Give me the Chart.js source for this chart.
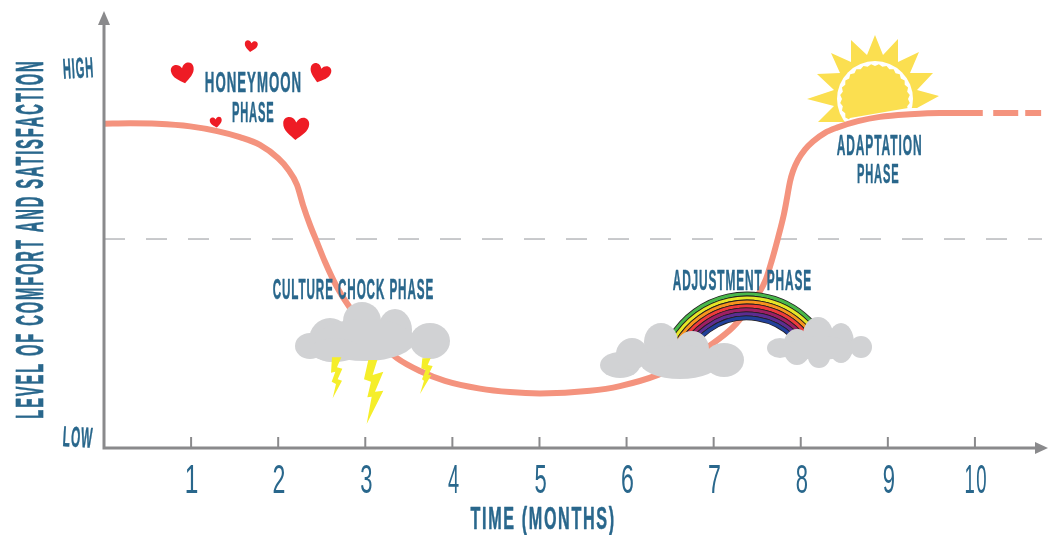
<!DOCTYPE html>
<html><head><meta charset="utf-8">
<style>html,body{margin:0;padding:0;background:#fff}canvas{display:block}</style>
<script src="https://cdn.jsdelivr.net/npm/chart.js@4"></script>
</head><body>
<div style="width:1054px;height:535px"><canvas id="c" width="1054" height="535"></canvas></div>
<script>
// ---- data ----
const monthTicks = [1,2,3,4,5,6,7,8,9,10];
const levelTicks = [2.6,88.4];
const levelLabels = {2.6:'LOW',88.4:'HIGH'};
const curveMonths = [0,.30,.61,.99,1.30,1.56,1.79,2.0,2.11,2.216,2.285,2.365,2.445,2.537,2.675,2.824,2.962,3.146,3.364,3.628,3.915,4.317,4.661,5.006,5.58,5.924,6.36,6.728,6.935,7.222,7.394,7.509,7.601,7.669,7.738,7.807,7.842,7.876,7.911,7.968,8.048,8.14,8.278,8.416,8.657,8.909,9.254,9.598,10.09];
const curveLevels = [75.4,75.5,75.4,74.8,73.7,72.3,70.5,67.4,64.9,61.2,56.5,51.9,47.9,43.3,37.4,32.6,29.1,24.9,20.9,17.9,15.6,13.8,13,12.7,13.3,14.4,17,20.7,23.5,28.1,32.3,35.6,39.3,43.7,48.8,54.4,58.1,61.9,64.4,67,69.4,71.3,73.3,74.5,76,77,77.6,77.9,77.9];
const futureMonths = [10.21,10.76];
const futureLevels = [77.9,77.9];
const neutralMonths = [0,10.77];
const neutralLevels = [48.6,48.6];

const TEXT='#29678c', AXIS='#8a8a8c', CURVE='#f4937e', FACE='"Liberation Sans Narrow","Liberation Sans",sans-serif';

function fit(ctx,t,cx,cy,w,h,rot,weight,spacing){
  ctx.save();
  const bold=(weight||'bold')==='bold';
  ctx.font=(bold?'bold':'normal')+' 40px '+FACE;
  ctx.letterSpacing=(spacing===undefined?3:spacing)+'px';
  ctx.fillStyle=TEXT;ctx.strokeStyle=TEXT;ctx.lineJoin='round';ctx.lineWidth=0.7;
  ctx.textAlign='left';ctx.textBaseline='alphabetic';
  const m=ctx.measureText(t);
  const bw=m.actualBoundingBoxLeft+m.actualBoundingBoxRight,bh=m.actualBoundingBoxAscent+m.actualBoundingBoxDescent;
  ctx.translate(cx,cy);if(rot)ctx.rotate(rot);
  ctx.scale(w/bw,h/bh);
  const tx=-bw/2+m.actualBoundingBoxLeft,ty=bh/2-m.actualBoundingBoxDescent;
  ctx.fillText(t,tx,ty);
  if(bold)ctx.strokeText(t,tx,ty);
  ctx.restore();
}
function poly(ctx,pts,col){ctx.beginPath();pts.forEach((p,i)=>i?ctx.lineTo(p[0],p[1]):ctx.moveTo(p[0],p[1]));ctx.closePath();ctx.fillStyle=col;ctx.fill();}
function cloud(ctx,lobes){ctx.fillStyle='#d1d2d4';lobes.forEach(l=>{ctx.beginPath();ctx.ellipse(l[0],l[1],l[2],l[3],0,0,Math.PI*2);ctx.fill();});}
function heart(ctx,x,y,s,rot){
  ctx.save();ctx.translate(x,y);ctx.rotate(rot);ctx.scale(s/24,s/24);
  ctx.beginPath();ctx.moveTo(0,11);
  ctx.bezierCurveTo(-5,7,-12,3,-12,-4);ctx.bezierCurveTo(-12,-11,-3,-12,0,-5);
  ctx.bezierCurveTo(3,-12,12,-11,12,-4);ctx.bezierCurveTo(12,3,5,7,0,11);
  ctx.fillStyle='#ee1c25';ctx.fill();ctx.restore();
}
const sunPts=[[875,35],[883,55],[898,39],[898,62],[919,52],[910,73],[933,73],[917,90],[939,96],[917,108],[912,108],[845,122],[818,122],[834,106],[807,99],[834,90],[817,74],[840,73],[831,53],[851,62],[851,40],[867,55]];
const rainbowBands=['#49b74a','#e6e627','#f7941d','#ee3b3b','#9e1f63','#5c2d91','#21409a'];

const back={id:'back',beforeDatasetsDraw(ch){
  const c=ch.ctx,o=ch.scales.x.getPixelForValue(0),b=ch.scales.y.getPixelForValue(0);
  c.save();c.translate(o-104,b-448);
  poly(c,sunPts,'#fbdf50');
  c.beginPath();c.arc(875,99,38,0,Math.PI*2);c.fillStyle='#fff';c.fill();
  const j=[];for(let i=0;i<56;i++){const r=i%2?35:33,a=i/56*Math.PI*2;j.push([875+r*Math.cos(a),99+r*Math.sin(a)]);}
  poly(c,j,'#fbdf50');
  poly(c,[[846,123],[850,118],[908,108],[913,108],[925,142],[846,142]],'#fff');
  c.restore();
}};
const front={id:'front',afterDatasetsDraw(ch){
  const c=ch.ctx,X=ch.scales.x,Y=ch.scales.y,o=X.getPixelForValue(0),b=Y.getPixelForValue(0),top=ch.chartArea.top,right=ch.chartArea.right;
  c.save();
  c.strokeStyle=AXIS;c.fillStyle=AXIS;c.lineWidth=3;
  c.beginPath();c.moveTo(o,top);c.lineTo(o,b);c.lineTo(right,b);c.stroke();
  c.beginPath();c.moveTo(o,top-7);c.lineTo(o-6,top+7);c.lineTo(o+6,top+7);c.closePath();c.fill();
  c.beginPath();c.moveTo(right+6,b);c.lineTo(right-7,b-6);c.lineTo(right-7,b+6);c.closePath();c.fill();
  c.lineWidth=2;
  monthTicks.forEach(t=>{const x=X.getPixelForValue(t);c.beginPath();c.moveTo(x,b);c.lineTo(x,b-11);c.stroke();
    fit(c,String(t),x+1,479,t===10?20:11,28,0,'normal',t===10?3:0);});
  levelTicks.forEach(v=>fit(c,levelLabels[v],78,Y.getPixelForValue(v),29,20,v>50?-0.06:0.06));
  fit(c,'LEVEL OF COMFORT AND SATISFACTION',29,240,356,27,-Math.PI/2,'bold',5);
  fit(c,'TIME (MONTHS)',542,521,143,29,0,'bold',4);
  c.translate(o-104,b-448);
  c.save();c.beginPath();c.rect(660,280,175,65);c.clip();
  rainbowBands.forEach((col,i)=>{const r=89-i*4;
    c.beginPath();c.arc(747,383,r,Math.PI*1.05,Math.PI*1.95);c.strokeStyle='#231f20';c.lineWidth=4.8;c.stroke();
    c.beginPath();c.arc(747,383,r,Math.PI*1.05,Math.PI*1.95);c.strokeStyle=col;c.lineWidth=3.2;c.stroke();});
  c.restore();
  cloud(c,[[310,346,15,13],[330,340,21,22],[362,321,19,19],[395,330,17,21],[430,341,20,18],[365,340,50,21],[335,350,25,12]]);
  cloud(c,[[620,365,20,13],[632,354,16,16],[661,342,17,19],[692,349,17,18],[724,360,20,17],[680,362,40,17]]);
  cloud(c,[[780,348,13,10],[797,347,14,18],[818,335,15,18],[841,343,13,20],[861,347,11,11],[819,357,11,11],[820,348,32,12]]);
  const B=(pts)=>poly(c,pts.map(p=>[260+p[0]/3,260+p[1]/3]),'#f5ee2a');
  B([[216,292],[244,292],[231,322],[247,326],[233,358],[246,362],[218,415],[228,372],[215,365],[226,335],[213,338]]);
  B([[325,300],[352,300],[338,345],[370,335],[345,395],[370,392],[320,492],[335,410],[322,412],[333,365],[312,358]]);
  B([[487,295],[512,295],[503,315],[518,318],[505,345],[514,345],[480,402],[492,362],[486,358],[497,330],[484,325]]);
  heart(c,183,73,23,-0.2);heart(c,251,46,13,0.15);heart(c,320,73,21,0.3);heart(c,216,122,12,-0.15);heart(c,296,128,26,0.05);
  fit(c,'HONEYMOON',253,81,95,21);fit(c,'PHASE',253,111,41,21);
  fit(c,'CULTURE CHOCK PHASE',353,288,160,21);
  fit(c,'ADJUSTMENT PHASE',742,279,138,21);
  fit(c,'ADAPTATION',879,144,84,21);fit(c,'PHASE',878,173,41,20);
  c.restore();
}};
const zip=(xs,ys)=>xs.map((x,i)=>({x,y:ys[i]}));
new Chart(document.getElementById('c'),{
  type:'line',
  data:{datasets:[
    {label:'Neutral level',data:zip(neutralMonths,neutralLevels),borderColor:'#bcbdc0',borderWidth:1.6,borderDash:[21,21],pointRadius:0,order:3},
    {label:'Comfort and satisfaction',data:zip(curveMonths,curveLevels),borderColor:CURVE,borderWidth:6,pointRadius:0,cubicInterpolationMode:'monotone',clip:false,order:1},
    {label:'Continuing',data:zip(futureMonths,futureLevels),borderColor:CURVE,borderWidth:6,borderDash:[25,7],pointRadius:0,order:2}
  ]},
  options:{
    responsive:false,animation:false,devicePixelRatio:1,
    layout:{padding:{top:18,right:12,left:0,bottom:0}},
    plugins:{legend:{display:false},tooltip:{enabled:false}},
    scales:{
      x:{type:'linear',min:0,max:10.77,afterBuildTicks(s){s.ticks=monthTicks.map(v=>({value:v}));},
         afterFit(s){s.height=87;},grid:{display:false},border:{display:false},ticks:{display:false}},
      y:{type:'linear',min:0,max:100,afterBuildTicks(s){s.ticks=levelTicks.map(v=>({value:v}));},
         afterFit(s){s.width=104;},grid:{display:false},border:{display:false},ticks:{display:false}}
    }
  },
  plugins:[back,front]
});
</script>
</body></html>
